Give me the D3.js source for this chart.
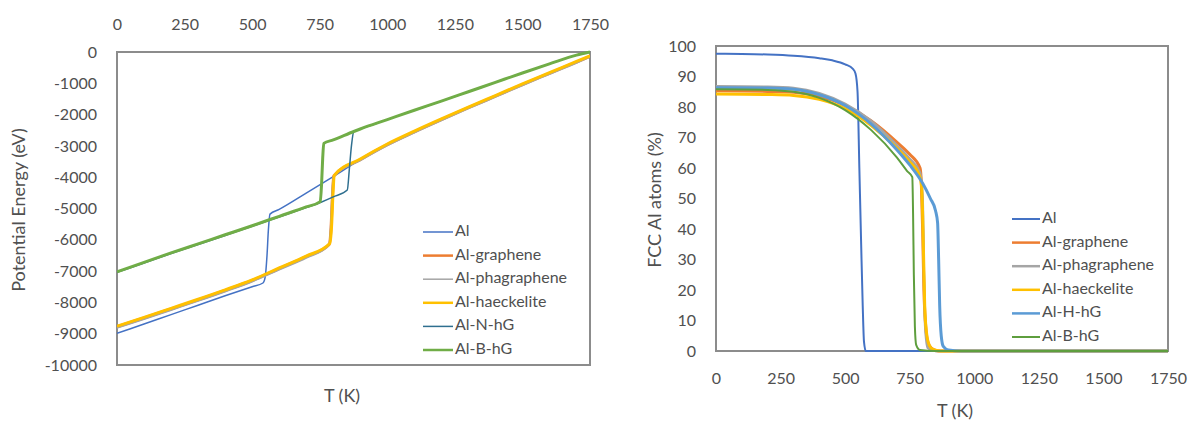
<!DOCTYPE html>
<html><head><meta charset="utf-8">
<script src="https://cdn.jsdelivr.net/npm/d3@7"></script>
<style>
body{margin:0;background:#fff}
text{font-family:Lato,"Open Sans",sans-serif;fill:#505050}
</style></head>
<body><svg id="c" width="1196" height="423"></svg>
<script>
// ---------- data ----------
const tTicks = [0,250,500,750,1000,1250,1500,1750];
const peTicks = [0,-1000,-2000,-3000,-4000,-5000,-6000,-7000,-8000,-9000,-10000];
const fccTicks = [0,10,20,30,40,50,60,70,80,90,100];

const leftNames = ["Al","Al-graphene","Al-phagraphene","Al-haeckelite","Al-N-hG","Al-B-hG"];
const rightNames = ["Al","Al-graphene","Al-phagraphene","Al-haeckelite","Al-H-hG","Al-B-hG"];

// Potential energy (eV) vs T (K)
const peAl = [[0,-8990],[100,-8690],[200,-8390],[300,-8090],[400,-7790],[500,-7500],[540,-7380],[548,-7200],[555,-6500],[560,-5700],[566,-5180],[600,-5030],[700,-4510],[800,-3980],[900,-3440],[1000,-2960],[1100,-2550],[1200,-2160],[1300,-1780],[1400,-1410],[1500,-1040],[1600,-680],[1700,-320],[1750,-140]];
const peGraphene = [[0,-8780],[100,-8500],[200,-8210],[300,-7920],[400,-7620],[500,-7300],[600,-6920],[700,-6540],[785,-6150],[792,-5600],[797,-4600],[802,-3960],[900,-3440],[1000,-2960],[1100,-2550],[1200,-2160],[1300,-1780],[1400,-1410],[1500,-1040],[1600,-680],[1700,-320],[1750,-140]];
const pePhagraphene = [[0,-8820],[100,-8540],[200,-8250],[300,-7960],[400,-7660],[500,-7340],[600,-6960],[700,-6580],[783,-6190],[790,-5650],[795,-4650],[800,-4000],[900,-3470],[1000,-2990],[1100,-2580],[1200,-2190],[1300,-1810],[1400,-1440],[1500,-1070],[1600,-710],[1700,-350],[1750,-160]];
const peHaeckelite = [[0,-8760],[100,-8480],[200,-8190],[300,-7900],[400,-7600],[500,-7280],[600,-6900],[700,-6520],[787,-6120],[794,-5550],[799,-4550],[804,-3940],[900,-3420],[1000,-2940],[1100,-2530],[1200,-2140],[1300,-1760],[1400,-1390],[1500,-1020],[1600,-660],[1700,-300],[1750,-120]];
const peNhG = [[0,-7040],[100,-6740],[200,-6440],[300,-6150],[400,-5860],[500,-5570],[600,-5270],[700,-4970],[755,-4800],[800,-4630],[852,-4410],[860,-3700],[868,-2950],[876,-2540],[900,-2460],[1000,-2160],[1100,-1860],[1200,-1570],[1300,-1270],[1400,-970],[1500,-670],[1600,-380],[1700,-100],[1750,-10]];
const peBhG = [[0,-7020],[100,-6720],[200,-6420],[300,-6130],[400,-5840],[500,-5550],[600,-5250],[700,-4950],[752,-4780],[757,-4200],[761,-3400],[765,-2920],[800,-2810],[876,-2540],[900,-2460],[1000,-2160],[1100,-1860],[1200,-1570],[1300,-1270],[1400,-970],[1500,-670],[1600,-380],[1700,-100],[1750,0]];

// FCC Al atoms (%) vs T (K)
const fccAl = [[0,97.5],[100,97.4],[200,97.2],[300,96.8],[400,96],[450,95.3],[500,94],[530,92.5],[540,91],[548,85],[555,60],[562,35],[568,15],[573,3],[580,0],[1750,0]];
const fccGraphene = [[0,85.3],[200,85.1],[300,84.8],[400,83.5],[500,80.5],[600,75.5],[700,68.5],[750,64.5],[790,60],[795,55],[800,40],[805,20],[812,8],[820,3],[835,0.8],[860,0],[1750,0]];
const fccPhagraphene = [[0,86.8],[200,86.6],[300,86.2],[400,84.5],[500,81],[600,75.5],[700,67.5],[750,63],[790,58.5],[800,50],[805,25],[810,8],[820,1],[850,0],[1750,0]];
const fccHaeckelite = [[0,84.3],[200,84.1],[300,83.8],[400,82.5],[500,79.5],[600,74],[700,66.5],[750,62],[790,57],[796,54],[800,45],[804,30],[808,15],[815,6],[825,2],[840,0.5],[870,0],[1750,0]];
const fccHhG = [[0,86.3],[200,86.2],[300,85.8],[400,84],[500,80.5],[600,74.5],[700,66],[750,61],[800,55],[830,50],[850,46],[858,42],[862,30],[866,15],[872,5],[880,1.5],[900,0.3],[950,0],[1750,0]];
const fccBhG = [[0,85.8],[200,85.6],[300,85],[400,83],[500,79],[600,72.5],[700,63.5],[740,59],[760,57],[763,45],[766,25],[770,8],[775,2],[790,0.3],[850,0],[1750,0]];

const leftData = [peAl, peGraphene, pePhagraphene, peHaeckelite, peNhG, peBhG];
const rightData = [fccAl, fccGraphene, fccPhagraphene, fccHaeckelite, fccHhG, fccBhG];

// ---------- styles ----------
const leftColors = ["#4472C4","#ED7D31","#A5A5A5","#FFC000","#2F6F8F","#70AD47"];
const leftWidths = [1.5,3,1.5,3,1.5,3];
const rightColors = ["#4472C4","#ED7D31","#A5A5A5","#FFC000","#5B9BD5","#5E9E3E"];
const rightWidths = [2,3,2.5,3,3,2];

const svg = d3.select("#c");

function panel(o){
  const x = d3.scaleLinear().domain([0,1750]).range([o.x0,o.x1]);
  const y = d3.scaleLinear().domain(o.ydom).range([o.y1,o.y0]);
  const g = svg.append("g");
  // plot frame
  g.append("rect").attr("x",o.x0).attr("y",o.y0).attr("width",o.x1-o.x0).attr("height",o.y1-o.y0)
    .attr("fill","#fff").attr("stroke","#8c8c8c").attr("stroke-width",2);
  // series
  const clip = "clip"+o.id;
  g.append("clipPath").attr("id",clip).append("rect")
    .attr("x",o.x0).attr("y",o.y0-2).attr("width",o.x1-o.x0).attr("height",o.y1-o.y0+4);
  const line = d3.line().x(d=>x(d[0])).y(d=>y(d[1])).curve(d3.curveMonotoneX);
  o.data.forEach((s,i)=>{
    g.append("path").attr("d",line(s)).attr("fill","none")
      .attr("stroke",o.colors[i]).attr("stroke-width",o.widths[i])
      .attr("stroke-linejoin","round").attr("clip-path",`url(#${clip})`);
  });
  // x axis
  const xa = (o.xTop ? d3.axisTop(x) : d3.axisBottom(x)).tickValues(tTicks).tickSize(0).tickPadding(o.xPad).tickFormat(d=>String(d));
  const xg = g.append("g").attr("transform",`translate(0,${o.xTop?o.y0:o.y1})`).call(xa);
  xg.select(".domain").remove();
  xg.selectAll("text").attr("font-size",16).attr("fill","#505050").style("font-family","Lato, sans-serif");
  // y axis
  const ya = d3.axisLeft(y).tickValues(o.yticks).tickSize(0).tickPadding(20).tickFormat(d=>String(d));
  const yg = g.append("g").attr("transform",`translate(${o.x0},0)`).call(ya);
  yg.select(".domain").remove();
  yg.selectAll("text").attr("font-size",16).attr("fill","#505050").style("font-family","Lato, sans-serif");
  // titles
  g.append("text").attr("x",o.xtx).attr("y",o.xty).attr("text-anchor","middle").attr("dominant-baseline","middle")
    .attr("font-size",18).text("T (K)");
  g.append("text").attr("transform",`translate(${o.ytx},${o.yty}) rotate(-90)`).attr("text-anchor","middle")
    .attr("dominant-baseline","middle").attr("font-size",18).text(o.ytitle);
  // legend
  o.names.forEach((n,i)=>{
    const yy = o.ly + i*o.lstep;
    g.append("line").attr("x1",o.lx).attr("x2",o.lx+o.llen).attr("y1",yy).attr("y2",yy)
      .attr("stroke",o.colors[i]).attr("stroke-width",Math.min(o.widths[i],2.5));
    g.append("text").attr("x",o.lx+o.llen+2).attr("y",yy).attr("dominant-baseline","middle")
      .attr("font-size",16).text(n);
  });
}

panel({id:"L",x0:117,x1:590,y0:52,y1:365,ydom:[-10000,0],yticks:peTicks,xTop:true,xPad:22,
  data:leftData,colors:leftColors,widths:leftWidths,names:leftNames,
  xtx:342,xty:397,ytx:20,yty:210,ytitle:"Potential Energy (eV)",
  lx:423,llen:30,ly:232,lstep:23.6});

panel({id:"R",x0:716,x1:1168,y0:46,y1:351,ydom:[0,100],yticks:fccTicks,xTop:false,xPad:22,
  data:rightData,colors:rightColors,widths:rightWidths,names:rightNames,
  xtx:955,xty:412,ytx:656,yty:200,ytitle:"FCC Al atoms (%)",
  lx:1012,llen:28,ly:219,lstep:23.6});
</script></body></html>
